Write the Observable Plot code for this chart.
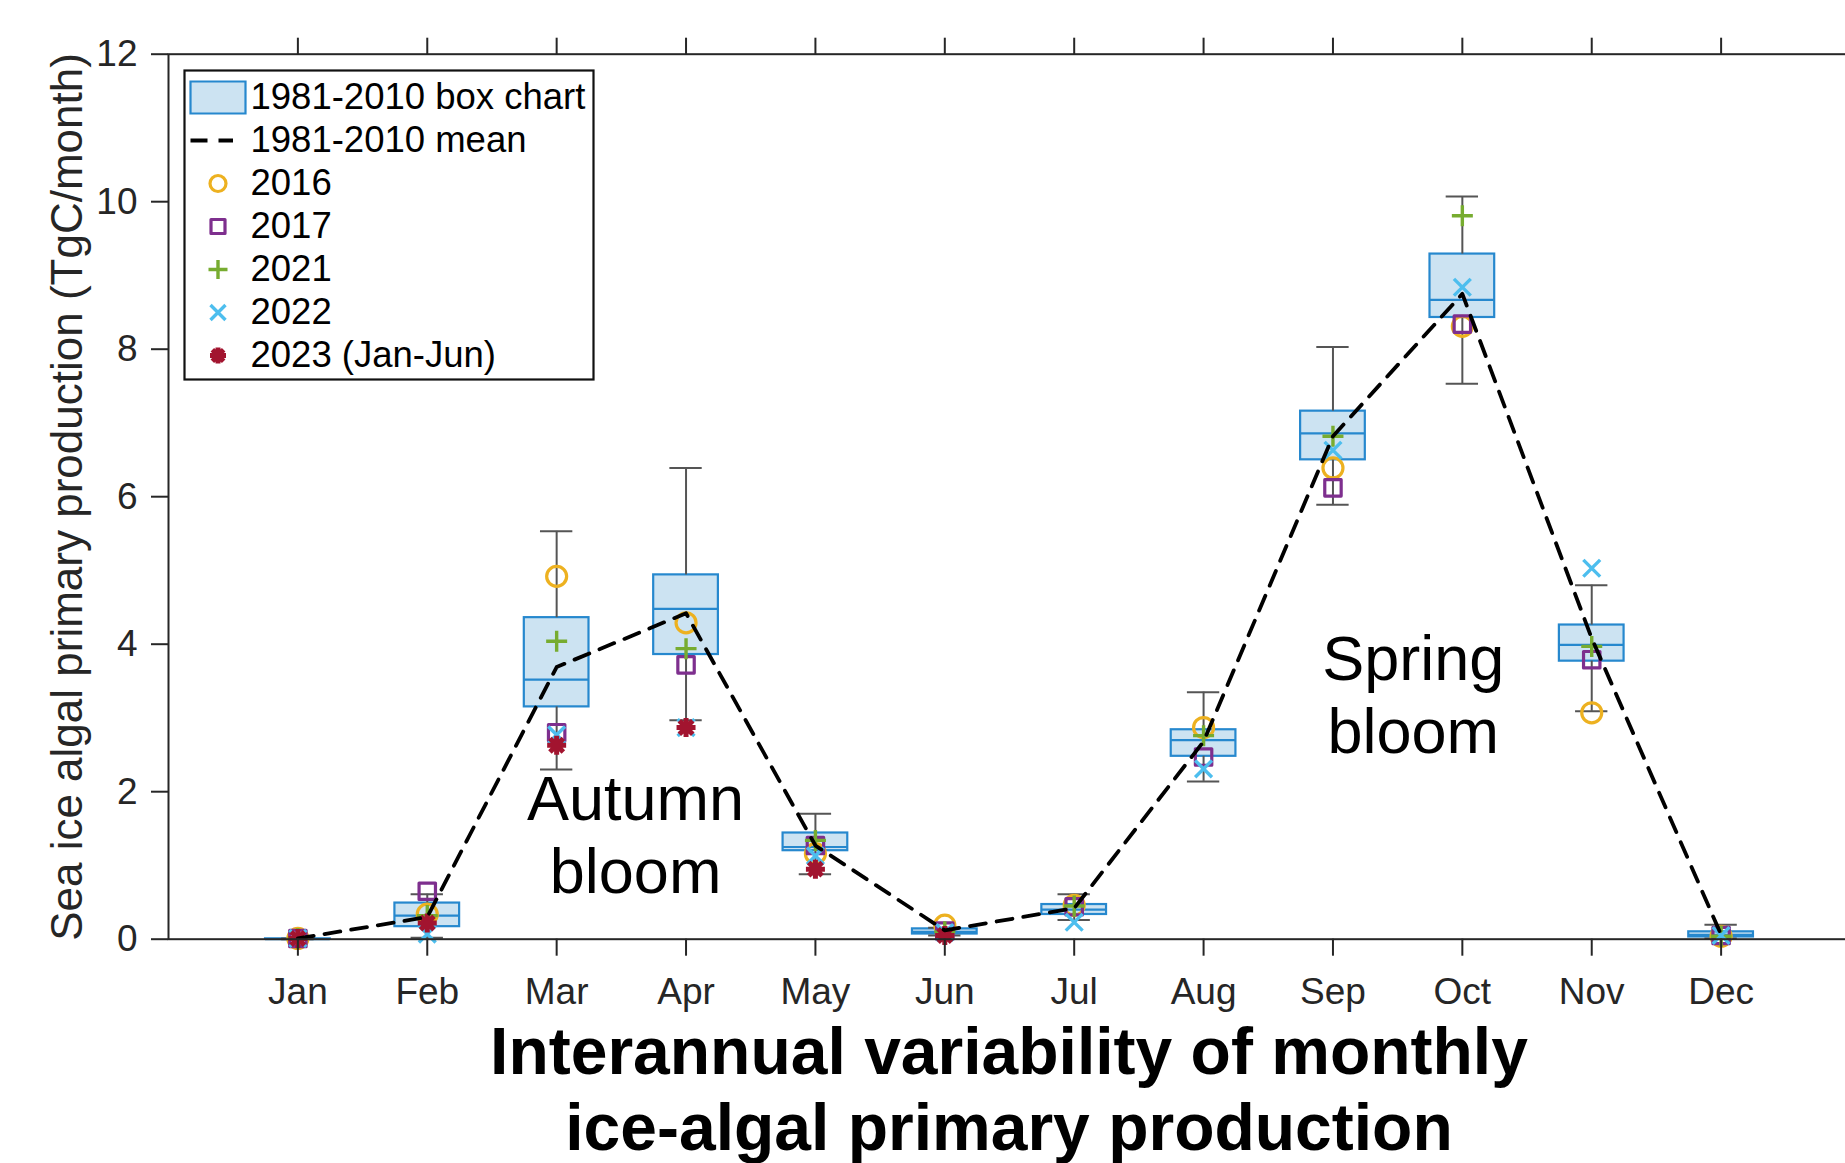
<!DOCTYPE html>
<html>
<head>
<meta charset="utf-8">
<script src="https://cdn.jsdelivr.net/npm/d3@7"></script>
<script src="https://cdn.jsdelivr.net/npm/@observablehq/plot@0.6"></script>
<style>
  html, body { margin: 0; padding: 0; background: #fff; }
  #wrap { position: relative; width: 1845px; height: 1163px; overflow: hidden; background: #fff; }
  #legend { position: absolute; left: 183px; top: 69px; }
  #ylabel { position: absolute; left: 67px; top: 497px; transform: translate(-50%, -50%) rotate(-90deg);
            white-space: nowrap; font-family: "Liberation Sans", Arial, Helvetica, sans-serif;
            font-size: 44px; line-height: 1; color: #262626; }
  #title { position: absolute; left: 168px; width: 1682px; top: 1013px; text-align: center;
           font-family: "Liberation Sans", Arial, Helvetica, sans-serif; font-weight: bold;
           font-size: 66px; line-height: 76px; color: #000; }
</style>
</head>
<body>
<div id="wrap">
  <div id="chart"></div>
  <div id="legend"></div>
  <div id="ylabel">Sea ice algal primary production (TgC/month)</div>
  <div id="title">Interannual variability of monthly<br>ice-algal primary production</div>
</div>
<script>
// ---------------- data ----------------
const months = ["Jan","Feb","Mar","Apr","May","Jun","Jul","Aug","Sep","Oct","Nov","Dec"];
const yTicks = [0, 2, 4, 6, 8, 10, 12];

// 1981-2010 box chart statistics
const whiskerLow  = [0.00, 0.02, 2.30, 2.97, 0.88, 0.05, 0.26, 2.14, 5.89, 7.53, 3.09, 0.01];
const quart1      = [0.00, 0.17, 3.15, 3.86, 1.20, 0.07, 0.335, 2.48, 6.50, 8.43, 3.77, 0.03];
const medians     = [0.00, 0.32, 3.52, 4.48, 1.25, 0.10, 0.40, 2.70, 6.86, 8.67, 3.99, 0.06];
const quart3      = [0.005, 0.49, 4.36, 4.94, 1.44, 0.14, 0.47, 2.84, 7.16, 9.29, 4.26, 0.10];
const whiskerHigh = [0.01, 0.61, 5.53, 6.39, 1.70, 0.155, 0.61, 3.35, 8.03, 10.07, 4.80, 0.195];
// 1981-2010 mean
const meanValues  = [0.01, 0.30, 3.69, 4.42, 1.27, 0.12, 0.42, 2.68, 6.82, 8.75, 4.08, 0.06];

// individual years
const years = ["2016", "2017", "2021", "2022", "2023 (Jan-Jun)"];
const v2016 = [0.01, 0.34, 4.92, 4.29, 1.16, 0.19, 0.46, 2.87, 6.39, 8.31, 3.07, 0.04];
const v2017 = [0.01, 0.65, 2.80, 3.72, 1.27, 0.11, 0.44, 2.47, 6.12, 8.34, 3.79, 0.05];
const v2021 = [0.01, 0.32, 4.04, 3.94, 1.34, 0.10, 0.45, 2.76, 6.82, 9.81, 3.97, 0.04];
const v2022 = [0.01, 0.07, 2.77, 2.87, 1.13, 0.09, 0.23, 2.31, 6.63, 8.84, 5.03, 0.05];
const v2023 = [0.01, 0.22, 2.63, 2.87, 0.95, 0.05, null, null, null, null, null, null];

const annotLabels = ["Autumn\nbloom", "Spring\nbloom"];
const annotMonth  = [3.61, 9.62];
const annotValue  = [1.44, 3.34];

const legendEntries = ["1981-2010 box chart", "1981-2010 mean", ...years];

// ---------------- styles ----------------
const yearColors = ["#EDB120", "#7E2F8E", "#77AC30", "#4DBEEE", "#A2142F"];
const boxFill = "#CCE3F2", boxStroke = "#2688CE", whiskerColor = "#555555", axisColor = "#262626";
const BOX_HALF = 0.25, CAP_HALF = 0.125;
const FONT = "'Liberation Sans', Arial, Helvetica, sans-serif";

function makeSymbol(fn) { return { draw(ctx, size) { fn(ctx, Math.sqrt(size / Math.PI)); } }; }
const symCircle = makeSymbol((c, r) => { c.moveTo(r, 0); c.arc(0, 0, r, 0, 2 * Math.PI); c.closePath(); });
const symSquare = makeSymbol((c, r) => { c.rect(-r, -r, 2 * r, 2 * r); });
const symPlus   = makeSymbol((c, r) => { c.moveTo(-r, 0); c.lineTo(r, 0); c.moveTo(0, -r); c.lineTo(0, r); });
const symTimes  = makeSymbol((c, r) => { c.moveTo(-r, -r); c.lineTo(r, r); c.moveTo(-r, r); c.lineTo(r, -r); });
const symStar   = makeSymbol((c, r) => {
  for (let k = 0; k < 4; k++) {
    const a = k * Math.PI / 4, dx = r * Math.cos(a), dy = r * Math.sin(a);
    c.moveTo(-dx, -dy); c.lineTo(dx, dy);
  }
});
const yearSymbols = [symCircle, symSquare, symPlus, symTimes, symStar];
const yearR       = [10, 8.2, 10.5, 8.4, 9.5];
const yearSW      = [3.2, 3.2, 3.4, 3.4, 5];
const legendR     = [8, 7, 9.5, 7.5, 8];

// ---------------- tables ----------------
const boxData = months.map((name, i) => ({
  m: i + 1, lo: whiskerLow[i], q1: quart1[i], med: medians[i], q3: quart3[i], hi: whiskerHigh[i]
}));
const meanData = months.map((name, i) => ({ m: i + 1, v: meanValues[i] }));
const yearValues = [v2016, v2017, v2021, v2022, v2023];
const yearData = yearValues.map(vals => vals.map((v, i) => ({ m: i + 1, v })).filter(d => d.v != null));
const annotData = annotLabels.map((t, i) => ({ label: t, m: annotMonth[i], v: annotValue[i] }));

// ---------------- main chart ----------------
const chart = Plot.plot({
  width: 1845,
  height: 1013,
  marginLeft: 168,
  marginRight: -5,
  marginTop: 53.7,
  marginBottom: 74.3,
  style: { fontFamily: FONT, fontSize: "36px", color: axisColor, background: "white", overflow: "visible" },
  x: { domain: [0, 13], label: null },
  y: { domain: [0, 12], label: null },
  marks: [
    // boxes
    Plot.rect(boxData, { x1: d => d.m - BOX_HALF, x2: d => d.m + BOX_HALF, y1: "q1", y2: "q3",
      fill: boxFill, stroke: boxStroke, strokeWidth: 2.2 }),
    Plot.ruleY(boxData, { y: "med", x1: d => d.m - BOX_HALF, x2: d => d.m + BOX_HALF, stroke: boxStroke, strokeWidth: 2.2 }),
    // whiskers
    Plot.ruleX(boxData, { x: "m", y1: "q3", y2: "hi", stroke: whiskerColor, strokeWidth: 2 }),
    Plot.ruleX(boxData, { x: "m", y1: "lo", y2: "q1", stroke: whiskerColor, strokeWidth: 2 }),
    Plot.ruleY(boxData, { y: "hi", x1: d => d.m - CAP_HALF, x2: d => d.m + CAP_HALF, stroke: whiskerColor, strokeWidth: 2 }),
    Plot.ruleY(boxData, { y: "lo", x1: d => d.m - CAP_HALF, x2: d => d.m + CAP_HALF, stroke: whiskerColor, strokeWidth: 2 }),
    // year markers
    ...yearData.map((pts, k) => Plot.dot(pts, { x: "m", y: "v", symbol: yearSymbols[k], r: yearR[k],
      stroke: yearColors[k], fill: "none", strokeWidth: yearSW[k], strokeLinejoin: "round" })),
    // mean line
    Plot.line(meanData, { x: "m", y: "v", stroke: "black", strokeWidth: 3.8, strokeDasharray: "16,11" }),
    // annotations
    Plot.text(annotData, { x: "m", y: "v", text: "label", fontSize: 63, lineHeight: 1.16, fill: "black" }),
    // axes & frame
    Plot.frame({ stroke: axisColor, strokeWidth: 2 }),
    Plot.axisX({ ticks: months.map((_, i) => i + 1), tickFormat: i => months[i - 1], tickSize: 17,
      tickPadding: 22, fontSize: 37, label: null, strokeWidth: 2, color: axisColor }),
    Plot.axisX({ anchor: "top", ticks: months.map((_, i) => i + 1), tickFormat: () => "", tickSize: 17,
      label: null, strokeWidth: 2, color: axisColor }),
    Plot.axisY({ ticks: yTicks, tickSize: 17, tickPadding: 14, fontSize: 37, label: null,
      strokeWidth: 2, color: axisColor })
  ]
});
document.getElementById("chart").appendChild(chart);

// ---------------- legend ----------------
const symBoxPatch = { draw(c) { c.rect(-27.5, -16, 55, 32); } };
const symDash = { draw(c) { c.moveTo(-27.5, 0); c.lineTo(15, 0); } };
const legend = Plot.plot({
  width: 411, height: 311, margin: 0,
  style: { fontFamily: FONT, background: "white", overflow: "visible" },
  y: { type: "point", domain: legendEntries, range: [26, 287], padding: 0, axis: null },
  marks: [
    Plot.frame({ stroke: "#111", strokeWidth: 2.2, inset: 1 }),
    Plot.dot([legendEntries[0]], { y: d => d, frameAnchor: "left", dx: 34.5, symbol: symBoxPatch,
      fill: boxFill, stroke: boxStroke, strokeWidth: 2.2 }),
    Plot.dot([legendEntries[1]], { y: d => d, frameAnchor: "left", dx: 34.5, symbol: symDash,
      fill: "none", stroke: "black", strokeWidth: 3.8, strokeDasharray: "17,11" }),
    ...years.map((yr, k) => Plot.dot([yr], { y: d => d, frameAnchor: "left", dx: 34.5, symbol: yearSymbols[k],
      r: legendR[k], stroke: yearColors[k], fill: "none", strokeWidth: yearSW[k], strokeLinejoin: "round" })),
    Plot.text(legendEntries, { y: d => d, text: d => d, frameAnchor: "left", dx: 67, textAnchor: "start",
      fontSize: 36.5, fill: "black" })
  ]
});
document.getElementById("legend").appendChild(legend);
</script>
</body>
</html>
